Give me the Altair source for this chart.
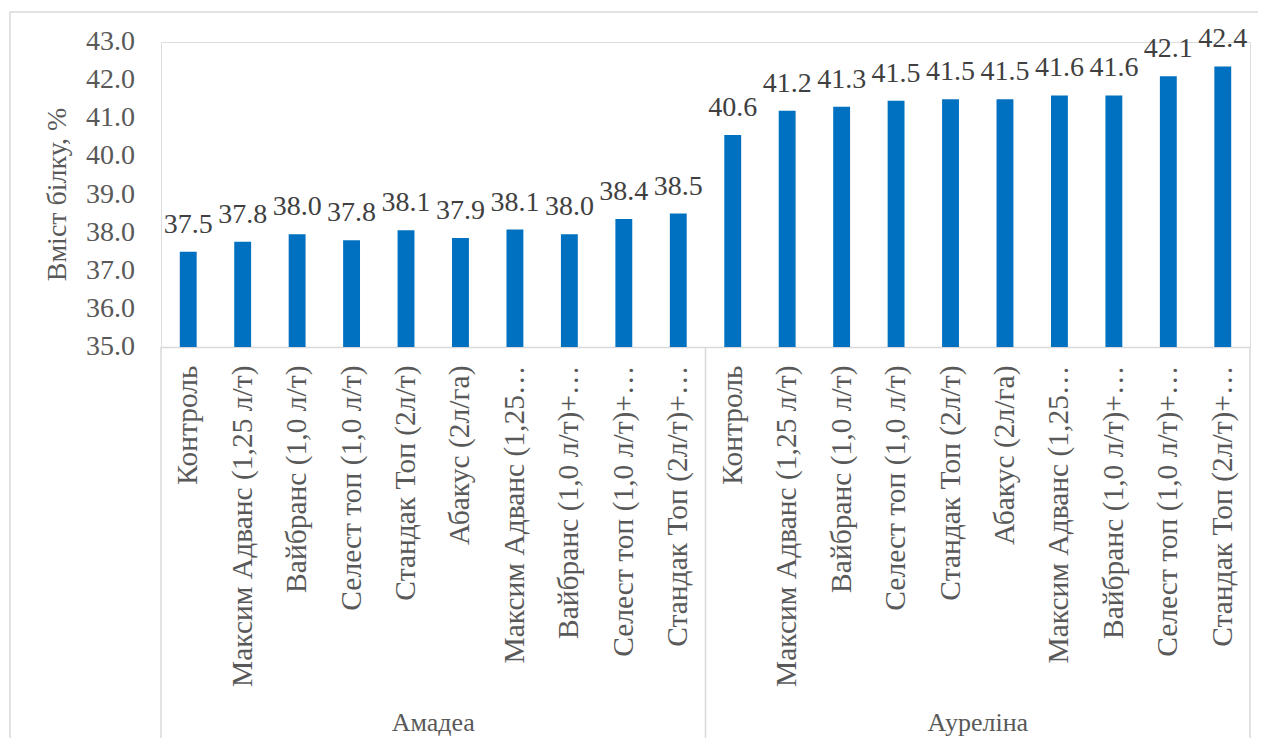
import altair as alt
import pandas as pd

groups = ["Амадеа", "Ауреліна"]
treatments = [
    "Контроль",
    "Максим Адванс (1,25 л/т)",
    "Вайбранс (1,0 л/т)",
    "Селест топ (1,0 л/т)",
    "Стандак Топ (2л/т)",
    "Абакус (2л/га)",
    "Максим Адванс (1,25…",
    "Вайбранс (1,0 л/т)+…",
    "Селест топ (1,0 л/т)+…",
    "Стандак Топ (2л/т)+…",
]
amadea = [37.50, 37.76, 37.96, 37.80, 38.06, 37.86, 38.08, 37.96, 38.36, 38.50]
aurelina = [40.56, 41.20, 41.30, 41.46, 41.50, 41.50, 41.60, 41.60, 42.10, 42.36]
y_ticks = [35, 36, 37, 38, 39, 40, 41, 42, 43]
y_title = "Вміст білку, %"

rows = []
i = 0
for g, vals in zip(groups, [amadea, aurelina]):
    for t, v in zip(treatments, vals):
        rows.append({"key": f"{i:02d}|{t}", "group": g, "value": v})
        i += 1
df = pd.DataFrame(rows)
keys = list(df["key"])

sep_left = pd.DataFrame({"key": [keys[0], keys[10]]})
sep_right = pd.DataFrame({"key": [keys[19]]})
grp = pd.DataFrame({"key": [keys[4], keys[14]], "group": groups})
ticks_df = pd.DataFrame({"tick": y_ticks})
title_df = pd.DataFrame({"t": [y_title]})

FONT = "Liberation Serif"
GRID = "#d9d9d9"
TXT = "#595959"

xscale = alt.Scale(paddingInner=0, paddingOuter=0)
yscale = alt.Scale(domain=[35, 43], zero=False, nice=False)
xenc = alt.X(
    "key:N",
    sort=keys,
    scale=xscale,
    title=None,
    axis=alt.Axis(
        labelExpr="split(datum.value, '|')[1]",
        labelAngle=-90,
        labelAlign="right",
        labelBaseline="middle",
        labelPadding=18,
        labelFontSize=29.5,
        labelColor=TXT,
        labelLimit=0,
        ticks=False,
        domainColor=GRID,
        domainWidth=1.5,
        grid=False,
    ),
)

yenc = alt.Y(
    "value:Q",
    scale=yscale,
    axis=alt.Axis(
        values=y_ticks,
        title=None,
        labels=False,
        ticks=False,
        domain=False,
        grid=True,
        gridColor=GRID,
        gridWidth=1.5,
    ),
)

border = alt.Chart(pd.DataFrame({"a": [0]})).mark_rect(
    fill=None, stroke=GRID, strokeWidth=1.5
).encode(
    x=alt.value(-151), x2=alt.value(1200), y=alt.value(-30), y2=alt.value(800)
)

bars = alt.Chart(df).mark_bar(
    width=alt.RelativeBandSize(0.31), color="#0070C0"
).encode(x=xenc, y=yenc, y2=alt.datum(35))

labels = alt.Chart(df).mark_text(
    baseline="alphabetic", dy=-19, fontSize=28, color="#404040"
).encode(
    x=alt.X("key:N", sort=keys, scale=xscale),
    y=alt.Y("value:Q"),
    text=alt.Text("value:Q", format=".1f"),
)

ytext = alt.Chart(ticks_df).mark_text(
    align="right", baseline="middle", fontSize=28, color=TXT
).encode(
    x=alt.value(-26),
    y=alt.Y("tick:Q", scale=yscale, axis=None),
    text=alt.Text("tick:Q", format=".1f"),
)

ytitle = alt.Chart(title_df).mark_text(
    align="center", baseline="bottom", angle=270, fontSize=28, color=TXT
).encode(
    x=alt.value(-89),
    y=alt.value(152.5),
    text="t:N",
)

rule_l = alt.Chart(sep_left).mark_rule(color=GRID, strokeWidth=1.5).encode(
    x=alt.X("key:N", sort=keys, scale=xscale, bandPosition=0),
    y=alt.value(305),
    y2=alt.value(700),
)
rule_r = alt.Chart(sep_right).mark_rule(color=GRID, strokeWidth=1.5).encode(
    x=alt.X("key:N", sort=keys, scale=xscale, bandPosition=1),
    y=alt.value(305),
    y2=alt.value(700),
)

grp_text = alt.Chart(grp).mark_text(
    baseline="alphabetic", fontSize=26, color=TXT
).encode(
    x=alt.X("key:N", sort=keys, scale=xscale, bandPosition=1),
    y=alt.value(689),
    text="group:N",
)

chart = (
    alt.layer(border, bars, labels, ytext, ytitle, rule_l, rule_r, grp_text)
    .properties(
        width=1089,
        height=305,
        autosize=alt.AutoSizeParams(type="none"),
        padding={"left": 153, "top": 34, "right": 8, "bottom": 391},
    )
    .configure_view(stroke=None)
    .configure_axis(labelFont=FONT, titleFont=FONT)
    .configure_text(font=FONT)
    .configure(background="white", font=FONT)
)

chart.save("out.html", embed_options={"renderer": "svg", "actions": False})
